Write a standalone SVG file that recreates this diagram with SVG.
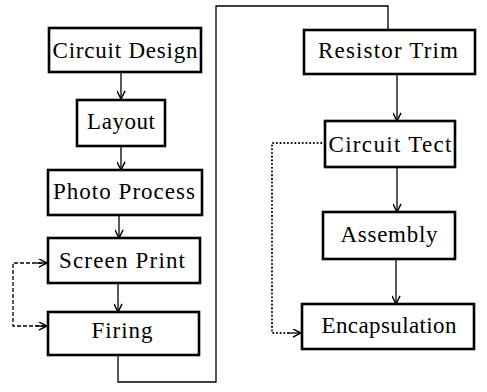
<svg xmlns="http://www.w3.org/2000/svg" width="487" height="392" viewBox="0 0 487 392">
<defs>
<style>
.box{fill:#fff;stroke:#000;stroke-width:2.6}
.lbl{font-family:"Liberation Serif","Times New Roman",serif;font-size:23px;fill:#000;text-anchor:middle}
.ln{fill:none;stroke:#000;stroke-width:1.3}
.dash{fill:none;stroke:#000;stroke-width:1.3;stroke-dasharray:4 2}
.dot{fill:none;stroke:#000;stroke-width:2;stroke-dasharray:0.1 3.6;stroke-linecap:round}
</style>
<marker id="ah" viewBox="0 0 10 10" refX="10" refY="5" markerWidth="9" markerHeight="9" markerUnits="userSpaceOnUse" orient="auto">
<path d="M1,0.5 L10,5 L1,9.5" fill="none" stroke="#000" stroke-width="1.6"/>
</marker>
</defs>
<rect width="487" height="392" fill="#fff"/>
<g id="connectors">
<line class="ln" x1="121" y1="72" x2="121" y2="99" marker-end="url(#ah)"/>
<line class="ln" x1="121" y1="146" x2="121" y2="170" marker-end="url(#ah)"/>
<line class="ln" x1="119" y1="215" x2="119" y2="238" marker-end="url(#ah)"/>
<line class="ln" x1="118" y1="283" x2="118" y2="312" marker-end="url(#ah)"/>
<path class="dash" d="M48,263 H13 V326 H48" />
<line class="ln" x1="36" y1="263" x2="47" y2="263" marker-end="url(#ah)"/>
<line class="ln" x1="36" y1="326" x2="47" y2="326" marker-end="url(#ah)"/>
<path class="ln" d="M118,355 V382 H216 V6 H388 V30"/>
<line class="ln" x1="397" y1="74" x2="397" y2="121" marker-end="url(#ah)"/>
<line class="ln" x1="397" y1="167" x2="397" y2="212" marker-end="url(#ah)"/>
<line class="ln" x1="396" y1="259" x2="396" y2="304" marker-end="url(#ah)"/>
<path class="dot" d="M325,143 H272 V333 H288"/>
<line class="ln" x1="288" y1="333" x2="301" y2="333" marker-end="url(#ah)"/>
</g>
<g id="circuit-design"><rect class="box" x="49" y="28" width="152" height="44"/><text class="lbl" x="125" y="58" textLength="145" lengthAdjust="spacing">Circuit Design</text></g>
<g id="layout"><rect class="box" x="77" y="100" width="88" height="46"/><text class="lbl" x="121" y="129" textLength="68" lengthAdjust="spacing">Layout</text></g>
<g id="photo-process"><rect class="box" x="48" y="170" width="154" height="45"/><text class="lbl" x="124" y="199" textLength="142" lengthAdjust="spacing">Photo Process</text></g>
<g id="screen-print"><rect class="box" x="48" y="238" width="152" height="45"/><text class="lbl" x="122" y="268" textLength="126" lengthAdjust="spacing">Screen Print</text></g>
<g id="firing"><rect class="box" x="48" y="312" width="151" height="43"/><text class="lbl" x="122" y="338" textLength="61" lengthAdjust="spacing">Firing</text></g>
<g id="resistor-trim"><rect class="box" x="304" y="30" width="171" height="44"/><text class="lbl" x="388" y="58" textLength="140" lengthAdjust="spacing">Resistor Trim</text></g>
<g id="circuit-tect"><rect class="box" x="325" y="121" width="130" height="46"/><text class="lbl" x="390" y="152" textLength="123" lengthAdjust="spacing">Circuit Tect</text></g>
<g id="assembly"><rect class="box" x="323" y="212" width="132" height="47"/><text class="lbl" x="389" y="242" textLength="97" lengthAdjust="spacing">Assembly</text></g>
<g id="encapsulation"><rect class="box" x="302" y="304" width="172" height="45"/><text class="lbl" x="389" y="333" textLength="135" lengthAdjust="spacing">Encapsulation</text></g>
</svg>
